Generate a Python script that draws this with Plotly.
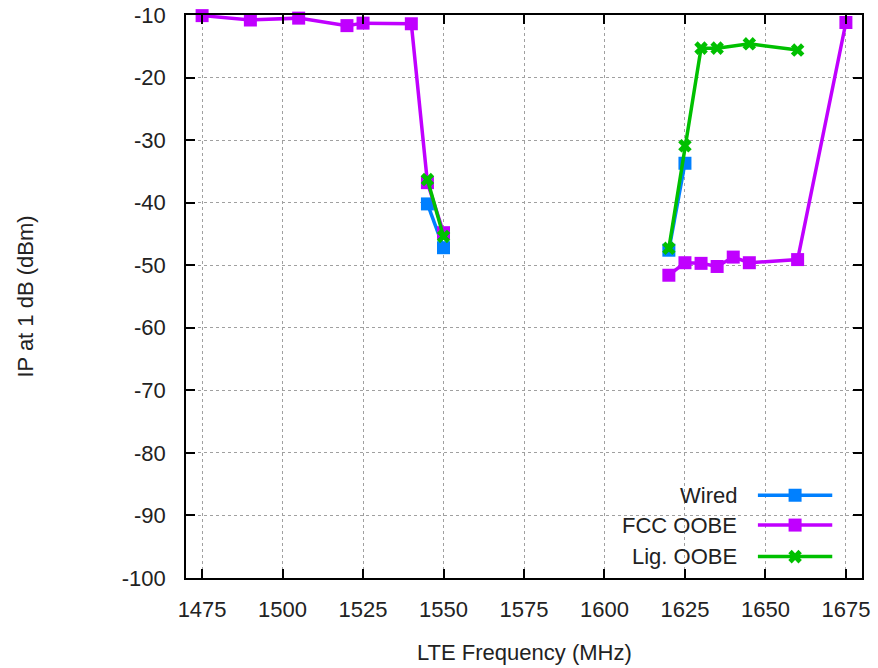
import plotly.graph_objects as go

# ---- data ----
wired_x = [1545, 1550, None, 1620, 1625]
wired_y = [-40.2, -47.2, None, -47.6, -33.7]

fcc_x = [1475, 1490, 1505, 1520, 1525, 1540, 1545, 1550, None,
         1620, 1625, 1630, 1635, 1640, 1645, 1660, 1675]
fcc_y = [-10.1, -10.8, -10.5, -11.7, -11.3, -11.4, -36.8, -44.8, None,
         -51.6, -49.6, -49.7, -50.2, -48.7, -49.6, -49.1, -11.2]

lig_x = [1545, 1550, None, 1620, 1625, 1630, 1635, 1645, 1660]
lig_y = [-36.3, -45.4, None, -47.3, -30.9, -15.3, -15.3, -14.6, -15.6]

series_names = ["Wired", "FCC OOBE", "Lig. OOBE"]
colors = ["#0080ff", "#c000ff", "#00c000"]
symbols = ["square", "square", "x"]

x_ticks = [1475, 1500, 1525, 1550, 1575, 1600, 1625, 1650, 1675]
y_ticks = [-10, -20, -30, -40, -50, -60, -70, -80, -90, -100]
y_tick_text = ["-10", "-20", "-30", "-40", "-50", "-60", "-70", "-80", "-90", "-100"]

FONT = "Liberation Sans, Arial, sans-serif"
FS = 22
TXT = "#222222"

fig = go.Figure()
for xs, ys, name, c, s in zip([wired_x, fcc_x, lig_x], [wired_y, fcc_y, lig_y],
                              series_names, colors, symbols):
    fig.add_trace(go.Scatter(
        x=xs, y=ys, name=name, mode="lines+markers",
        line=dict(color=c, width=3.5),
        marker=dict(symbol=s, size=13 if s == "square" else 12, color=c,
                    line=dict(width=0)),
        connectgaps=False, showlegend=False, cliponaxis=False))

# gnuplot-style legend (text left of sample) drawn on overlay axes in [0,1]
leg_y = [0.147, 0.094, 0.038]
for ly, name, c, s in zip(leg_y, series_names, colors, symbols):
    fig.add_trace(go.Scatter(
        x=[0.846, 0.901, 0.956], y=[ly, ly, ly], mode="lines",
        line=dict(color=c, width=3.5), xaxis="x2", yaxis="y2",
        showlegend=False, hoverinfo="skip"))
    fig.add_trace(go.Scatter(
        x=[0.901], y=[ly], mode="markers",
        marker=dict(symbol=s, size=13 if s == "square" else 12, color=c),
        xaxis="x2", yaxis="y2", showlegend=False, hoverinfo="skip"))
    fig.add_annotation(x=0.818, y=ly, xref="x2", yref="y2", text=name,
                       showarrow=False, xanchor="right", yanchor="middle",
                       font=dict(family=FONT, size=FS, color=TXT))

axis_common = dict(
    showline=True, linecolor="black", linewidth=1.5, mirror="ticks",
    ticks="inside", ticklen=9, tickwidth=1.5, tickcolor="black",
    showgrid=True, gridcolor="#a0a0a0", griddash="dot", gridwidth=1,
    zeroline=False, automargin=False,
    tickfont=dict(family=FONT, size=FS, color=TXT),
)

fig.update_layout(
    width=878, height=668,
    margin=dict(l=186, r=16, t=15, b=90, autoexpand=False),
    paper_bgcolor="white", plot_bgcolor="white",
    xaxis=dict(range=[1470, 1680], tickvals=x_ticks, ticklabelstandoff=11,
               **axis_common),
    yaxis=dict(range=[-100, -10], tickvals=y_ticks, ticktext=y_tick_text,
               ticklabelstandoff=14, **axis_common),
    xaxis2=dict(range=[0, 1], overlaying="x", visible=False, fixedrange=True),
    yaxis2=dict(range=[0, 1], overlaying="y", visible=False, fixedrange=True),
    annotations=list(fig.layout.annotations) + [
        dict(text="LTE Frequency (MHz)", x=0.5, y=-0.133, xref="paper",
             yref="paper", showarrow=False, xanchor="center", yanchor="middle",
             font=dict(family=FONT, size=FS, color=TXT)),
        dict(text="IP at 1 dB (dBm)", x=-0.238, y=0.5, xref="paper",
             yref="paper", showarrow=False, textangle=-90, xanchor="center",
             yanchor="middle", font=dict(family=FONT, size=FS, color=TXT)),
    ],
)

fig.write_html("out.html")
